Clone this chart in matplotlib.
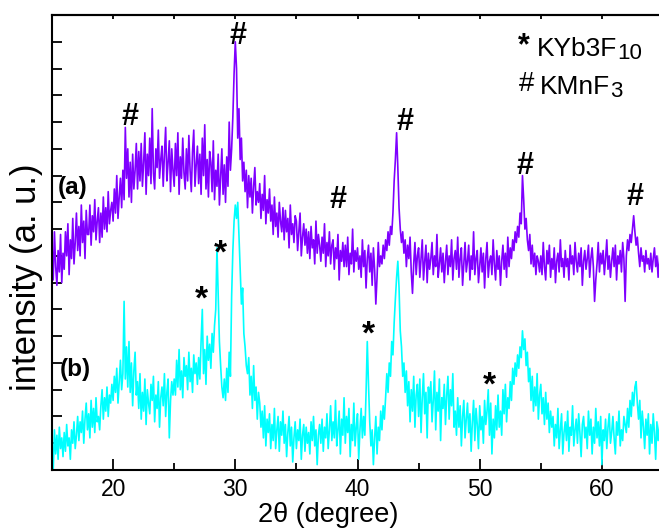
import matplotlib
matplotlib.use("Agg")
import matplotlib.pyplot as plt
import numpy as np

plt.rcParams['font.family'] = ['Liberation Sans', 'DejaVu Sans']

# intensity, one row per degree (15.0 .. 64.9 in 0.1 steps, then 65.0)
trace_a = [
    8.4, 7.1, 8.9, 7.6, 6.9, 8.2, 7.4, 8.8, 7.0, 8.1,
    7.5, 8.9, 8.0, 9.2, 7.3, 8.6, 7.9, 9.4, 7.7, 8.5,
    9.6, 8.2, 9.1, 8.0, 9.9, 8.5, 9.3, 7.9, 9.7, 8.8,
    8.8, 9.9, 8.4, 9.5, 8.9, 10.1, 8.6, 9.3, 9.8, 8.5,
    9.6, 8.7, 10.2, 9.0, 9.8, 8.9, 10.4, 9.2, 9.7, 10.0,
    9.3, 10.5, 9.6, 11.0, 9.4, 10.2, 10.9, 9.8, 11.2, 10.1,
    12.8, 10.9, 12.0, 10.2, 11.5, 10.0, 11.8, 10.5, 11.2, 12.2,
    10.5, 11.9, 10.8, 12.2, 10.6, 11.5, 12.6, 10.3, 11.8, 11.0,
    12.4, 10.7, 13.5, 11.1, 10.5, 12.0, 11.3, 12.7, 10.9, 11.6,
    12.1, 10.6, 11.8, 12.8, 10.8, 11.5, 12.3, 10.4, 12.0, 11.2,
    10.6, 12.2, 11.0, 12.6, 10.3, 11.7, 10.9, 12.4, 11.1, 10.5,
    12.0, 10.8, 12.5, 11.2, 10.4, 11.9, 12.7, 10.6, 11.4, 12.1,
    10.7, 11.8, 10.3, 12.4, 11.0, 12.9, 10.5, 11.6, 10.2, 11.9,
    11.5, 10.4, 12.3, 10.1, 11.2, 10.6, 11.8, 9.9, 11.0, 12.0,
    10.3, 11.4, 10.0, 11.7, 10.6, 13.0, 11.2, 12.0, 13.2, 14.8,
    16.0, 15.0, 12.4, 13.5, 11.6, 12.4, 10.8, 11.5, 10.4, 11.2,
    9.8, 11.0, 10.2, 10.9, 9.6, 10.6, 11.3, 9.9, 10.4, 10.0,
    10.7, 9.4, 10.3, 9.7, 11.0, 9.2, 10.1, 9.6, 10.5, 9.3,
    9.9, 8.8, 10.2, 9.1, 9.6, 8.7, 10.0, 9.3, 8.9, 9.8,
    8.6, 9.7, 8.9, 9.4, 8.3, 9.9, 8.8, 9.2, 8.5, 9.5,
    9.3, 8.2, 8.9, 9.6, 8.0, 8.7, 9.2, 8.4, 9.0, 8.1,
    8.9, 7.9, 9.1, 8.3, 8.6, 7.7, 9.3, 8.1, 8.8, 8.4,
    7.8, 8.7, 8.1, 9.2, 7.6, 8.5, 8.0, 8.9, 7.7, 8.4,
    8.6, 7.5, 8.3, 7.9, 8.8, 7.1, 8.2, 7.8, 8.5, 7.6,
    8.4, 7.6, 8.7, 7.3, 8.1, 7.7, 9.0, 7.4, 8.2, 7.8,
    8.3, 7.5, 8.0, 7.2, 8.6, 7.6, 8.2, 6.8, 7.9, 8.4,
    7.4, 8.1, 6.9, 8.3, 7.5, 6.2, 7.2, 8.5, 7.6, 8.0,
    7.7, 8.4, 7.9, 8.6, 8.2, 8.9, 8.4, 9.1, 8.8, 9.6,
    10.8, 11.6, 12.6, 11.3, 9.8, 9.0, 8.5, 8.9, 8.1, 8.6,
    7.6, 8.4, 7.9, 8.7, 7.4, 6.6, 7.7, 8.5, 7.3, 8.0,
    8.3, 7.2, 7.9, 8.6, 7.1, 7.8, 8.4, 7.0, 8.1, 7.5,
    7.9, 8.5, 7.3, 8.0, 7.6, 8.8, 7.2, 7.7, 8.3, 7.4,
    8.1, 7.0, 7.8, 8.4, 7.3, 8.0, 7.6, 8.6, 7.1, 7.9,
    8.2, 7.5, 8.7, 7.2, 7.9, 8.3, 6.9, 7.7, 8.5, 7.4,
    7.8, 8.4, 7.1, 8.0, 7.5, 8.9, 7.3, 7.9, 8.2, 7.0,
    7.6, 8.3, 7.4, 8.1, 6.8, 7.9, 8.5, 7.2, 7.8, 8.0,
    7.3, 8.6, 7.7, 7.1, 8.2, 7.5, 8.0, 6.9, 7.8, 8.4,
    7.5, 8.1, 7.2, 8.7, 7.6, 8.3, 7.9, 8.6, 8.2, 8.9,
    8.5, 9.1, 8.7, 9.6, 9.2, 11.0, 10.1, 9.0, 9.4, 8.6,
    8.2, 8.8, 7.7, 8.4, 7.6, 8.1, 7.3, 8.0, 7.8, 7.4,
    8.0, 7.3, 8.5, 7.6, 7.1, 8.2, 7.7, 8.4, 7.2, 7.9,
    7.5, 8.3, 7.0, 7.8, 8.1, 7.4, 8.6, 7.6, 7.9, 7.2,
    8.2, 7.6, 7.9, 7.1, 8.4, 7.7, 8.0, 7.3, 8.5, 7.8,
    7.4, 8.1, 7.6, 8.3, 6.9, 7.8, 8.2, 7.5, 7.9, 8.4,
    7.2, 7.9, 8.3, 7.6, 6.3, 7.1, 7.7, 8.5, 7.4, 8.1,
    7.7, 8.2, 7.3, 7.9, 8.6, 7.5, 8.0, 7.2, 7.8, 8.3,
    7.6, 8.4, 7.1, 8.0, 7.7, 8.2, 7.4, 8.5, 7.9, 6.3,
    8.0, 8.6, 8.2, 8.8, 8.5, 9.0, 9.5, 8.9, 8.4, 8.7,
    8.1, 7.6, 8.3, 7.8, 8.0, 7.4, 8.2, 7.7, 7.9, 7.5,
    8.1, 7.4, 7.9, 8.3, 7.6, 8.0, 7.2, 7.8, 8.4, 7.6,
    7.9,
]

trace_b = [
    1.0, 0.0, 1.5, 0.6, 1.3, 0.4, 1.6, 0.8, 1.2, 0.5,
    1.4, 0.7, 1.7, 0.9, 1.2, 0.4, 1.5, 1.0, 1.8, 0.8,
    1.3, 2.0, 1.1, 1.8, 1.4, 2.2, 1.0, 1.9, 2.5, 1.5,
    2.1, 1.2, 2.6, 1.6, 2.3, 1.4, 2.7, 1.8, 2.0, 1.5,
    2.4, 3.0, 1.9, 2.7, 2.2, 3.1, 2.0, 2.8, 2.5, 3.2,
    2.6, 3.5, 2.9, 3.8, 2.5, 3.3, 4.1, 3.0, 3.6, 6.3,
    3.4, 4.6, 3.1, 4.8, 2.9, 4.0, 2.4, 3.7, 4.4, 2.8,
    3.3, 2.3, 3.6, 1.9, 2.9, 2.2, 3.4, 1.7, 3.0, 2.5,
    2.1, 3.2, 2.6, 3.5, 1.8, 2.8, 2.3, 3.3, 1.6, 2.7,
    3.1, 2.4, 3.6, 2.0, 2.9, 3.4, 1.2, 2.6, 3.3, 2.8,
    3.4, 2.8, 4.1, 3.1, 4.5, 3.0, 3.7, 2.7, 4.2, 3.5,
    3.9, 3.0, 4.4, 3.3, 3.8, 2.9, 4.3, 3.6, 4.0, 3.2,
    4.2, 3.4, 4.8, 6.0, 3.6, 4.5, 3.2, 5.0, 4.1, 4.7,
    3.8, 5.1, 4.4, 5.4, 6.0, 8.3, 6.6, 4.8, 3.9, 3.1,
    2.7, 3.4, 2.6, 3.8, 2.9, 4.4, 3.5, 6.5, 8.2, 9.3,
    9.9, 9.4, 10.0, 8.8, 7.5, 6.2, 6.8, 5.1, 4.6, 3.9,
    3.6, 4.2, 2.8, 3.5, 2.3, 3.9, 2.6, 3.1, 1.9, 2.9,
    2.5, 1.6, 2.2, 1.2, 2.4, 0.9, 1.9, 1.4, 2.1, 0.8,
    1.7, 1.1, 2.3, 0.8, 1.5, 2.0, 0.7, 1.8, 1.3, 2.2,
    1.0, 1.7, 0.5, 1.4, 2.0, 0.9, 1.6, 0.3, 1.2, 1.8,
    0.8, 1.5, 1.1, 1.9, 0.4, 1.3, 1.7, 0.7, 1.6, 1.0,
    1.4, 0.6, 1.8, 1.1, 2.0, 0.9, 1.5, 0.2, 1.3, 1.7,
    1.0, 1.9, 0.7, 1.6, 1.2, 2.1, 0.8, 1.5, 2.4, 1.1,
    1.8, 1.2, 2.6, 0.9, 1.5, 2.2, 0.6, 1.9, 1.3, 2.7,
    1.0, 2.0, 1.4, 2.3, 0.5, 1.7, 1.1, 2.5, 0.9, 1.6,
    2.1, 0.4, 1.5, 2.3, 1.2, 2.0, 1.3, 2.9, 4.8, 3.2,
    1.8, 0.9, 1.5, 0.2, 1.2, 2.0, 0.6, 1.6, 1.1, 2.2,
    1.5, 2.4, 1.9, 2.7, 3.6, 2.9, 4.0, 3.5, 4.8, 4.3,
    5.5, 6.4, 7.2, 7.8, 6.8, 5.2, 4.6, 3.5, 4.0, 2.9,
    3.7, 2.4, 3.3, 1.8, 3.0, 2.2, 3.5, 1.6, 2.8, 3.2,
    2.0, 3.4, 1.4, 2.7, 3.6, 2.1, 2.9, 1.2, 3.1, 2.5,
    3.3, 1.8, 2.6, 3.7, 1.5, 2.9, 2.2, 3.4, 1.1, 2.7,
    2.3, 3.2, 1.7, 2.8, 3.5, 1.9, 3.0, 2.4, 3.6, 1.6,
    2.2, 1.3, 2.7, 1.6, 2.4, 0.9, 2.0, 2.6, 1.2, 1.9,
    2.5, 1.4, 2.1, 0.7, 1.8, 2.6, 1.1, 2.3, 1.7, 0.8,
    2.4, 1.5, 2.0, 1.0, 2.6, 1.7, 2.2, 3.0, 1.3, 2.5,
    0.6, 1.9, 1.2, 2.4, 1.5, 2.8, 1.6, 2.2, 1.3, 3.0,
    2.1, 3.2, 1.8, 2.7, 2.3, 3.3, 2.6, 3.8, 3.2, 4.0,
    3.5, 4.3, 3.8, 4.6, 4.2, 5.2, 4.5, 4.9, 3.9, 4.4,
    3.3, 3.8, 2.6, 3.5, 2.2, 3.1, 2.4, 3.6, 1.9, 2.8,
    3.2, 2.1, 2.7, 1.7, 2.9, 1.9, 2.5, 1.4, 2.2, 1.6,
    2.0, 0.9, 1.7, 1.2, 2.3, 0.8, 1.5, 2.1, 0.6, 1.4,
    1.8, 1.1, 2.2, 0.7, 1.6, 1.3, 2.4, 0.9, 1.5, 1.9,
    1.0, 2.1, 1.4, 0.5, 1.7, 2.0, 1.2, 1.6, 0.8, 2.2,
    1.3, 1.9, 0.6, 1.6, 1.0, 2.3, 1.2, 1.8, 0.9, 2.0,
    0.2, 1.5, 1.1, 1.9, 0.8, 1.6, 2.1, 1.0, 1.4, 2.0,
    1.2, 0.6, 1.8, 1.3, 2.2, 0.9, 1.5, 1.1, 2.0, 1.7,
    1.4, 2.3, 1.6, 2.6, 2.0, 2.9, 2.4, 3.1, 3.3, 2.5,
    1.9, 2.6, 1.2, 2.2, 1.6, 0.8, 1.9, 1.3, 2.1, 0.6,
    1.7, 1.0, 2.1, 1.4, 0.4, 1.8, 1.1, 1.6, 2.0, 0.9,
    1.5,
]

two_theta = 15.0 + 0.1 * np.arange(len(trace_a))

# phase marks: (2theta, height, symbol)
marks = [
    (21.4, 13.2, '#'), (30.2, 16.2, '#'), (38.4, 10.1, '#'),
    (43.9, 13.0, '#'), (53.7, 11.35, '#'), (62.7, 10.2, '#'),
    (27.25, 6.35, '*'), (28.77, 8.05, '*'), (40.9, 5.05, '*'), (50.8, 3.15, '*'),
]

fig = plt.figure(figsize=(6.59, 5.28), dpi=100)
ax = fig.add_axes([52 / 659, 58 / 528, 611 / 659, 455 / 528])

ax.plot(two_theta, trace_a, color='#7f00ff', lw=1.2)
ax.plot(two_theta, trace_b, color='#00ffff', lw=1.2)

for x, y, s in marks:
    fs = 22 if s == '#' else 24
    ax.text(x, y, s, fontsize=fs, fontweight='bold', ha='center', va='center')

ax.text(16.7, 10.55, '(a)', fontsize=17.5, fontweight='bold', ha='center', va='center')
ax.text(16.9, 3.75, '(b)', fontsize=17.5, fontweight='bold', ha='center', va='center')

# legend made of plain texts, subscripts hung off the end of the formula
ax.text(53.6, 15.84, '*', fontsize=22, fontweight='bold', ha='center', va='center')
t1 = ax.text(54.67, 15.47, 'KYb3F', fontsize=19, va='baseline')
ax.annotate('10', xy=(1, 0), xycoords=t1, xytext=(0.5, -2), textcoords='offset points',
            fontsize=16, va='bottom')
ax.text(53.8, 14.42, '#', fontsize=20, ha='center', va='center')
t2 = ax.text(54.9, 14.04, 'KMnF', fontsize=19, va='baseline')
ax.annotate('3', xy=(1, 0), xycoords=t2, xytext=(0.5, -2), textcoords='offset points',
            fontsize=16, va='bottom')

ax.set_xlim(15, 65)
ax.set_ylim(0, 17)
ax.set_xticks([20, 30, 40, 50, 60])
ax.set_xticks([25, 35, 45, 55], minor=True)
ax.set_yticks(np.arange(0, 18, 1))
ax.set_yticklabels([])
ax.tick_params(axis='x', which='major', direction='in', length=8, width=1.3, labelsize=16.5, pad=6)
ax.tick_params(axis='x', which='minor', direction='in', length=5, width=1.3)
ax.tick_params(axis='y', direction='in', length=7, width=1.3)
for sp in ax.spines.values():
    sp.set_linewidth(1.5)

top = ax.secondary_xaxis('top')
top.set_xticks(np.arange(15, 66, 5))
top.tick_params(direction='in', length=3, width=1.3, labeltop=False)
top.spines['top'].set_linewidth(1.5)

ax.set_xlabel('2θ (degree)', fontsize=19.5)
ax.xaxis.set_label_coords((328 - 52) / 611, -0.07)
ax.set_ylabel('intensity (a. u.)', fontsize=25)
ax.yaxis.set_label_coords(-0.014, (470 - 277) / 455)

fig.savefig('out.png', dpi=100)
